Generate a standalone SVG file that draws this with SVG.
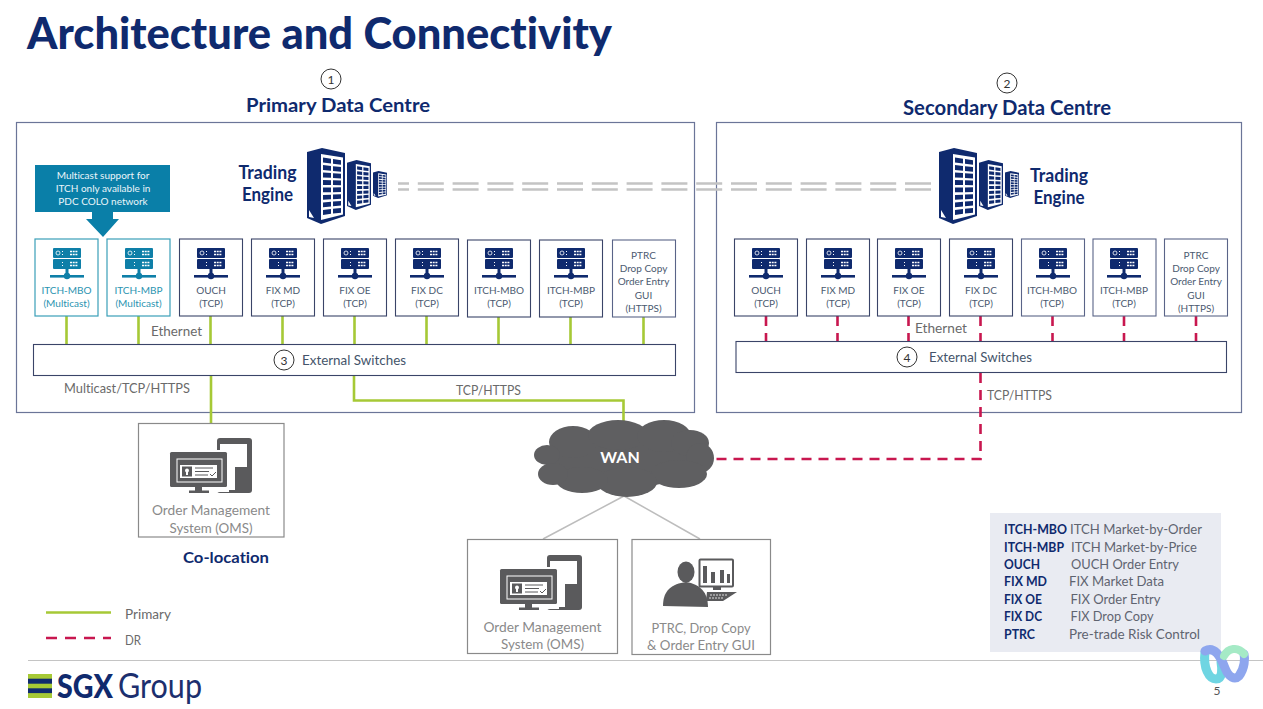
<svg xmlns="http://www.w3.org/2000/svg" width="1263" height="709" viewBox="0 0 1263 709">
<style>
text{font-family:Lato,"Liberation Sans",sans-serif;font-variant-ligatures:none}
.navy{fill:#0f2a6e;font-weight:700}
.g{fill:#6a6a6a;font-size:13.5px}
.lab{fill:#4b5a70;font-size:10px;text-anchor:middle}
.tl{fill:#2a93b0;font-size:10px;text-anchor:middle}
.sw{fill:#44546a;font-size:13.5px}
.oms{fill:#8a8a8a;font-size:13.5px;text-anchor:middle}
.num{fill:#333;font-size:12px;text-anchor:middle}
.c{fill:#fff;stroke:#333;stroke-width:1}
.dc{fill:none;stroke:#6b7598;stroke-width:1.2}
.n{fill:#fff;stroke:#3a4468;stroke-width:1.1}
.t{fill:#fff;stroke:#3a9fb8;stroke-width:1.2}
.sb{fill:#fff;stroke:#3a4468;stroke-width:1.1}
.box{fill:#fff;stroke:#8a8a8a;stroke-width:1.2}
.pri{fill:none;stroke:#a6c936;stroke-width:2.6}
.dr{fill:none;stroke:#c8174f;stroke-width:2.6;stroke-dasharray:10 7}
.drl{fill:none;stroke:#c8174f;stroke-width:2.6;stroke-dasharray:11 8}
.rep{fill:none;stroke:#c4c4c4;stroke-width:2.6;stroke-dasharray:26 8.8}
.k{fill:#0f2a6e;font-size:13.5px;font-weight:700}
.v{fill:#5f6470;font-size:13.5px}
</style>
<defs>
<symbol id="srv" viewBox="0 0 34 32" width="34" height="32" overflow="visible">
<rect x="3" y="0" width="28" height="10" rx="1" fill="currentColor"/>
<rect x="3" y="11" width="28" height="10" rx="1" fill="currentColor"/>
<circle cx="8" cy="5" r="2" fill="none" stroke="#fff" stroke-width=".8"/>
<path d="M12.500 3v1M12.500 6v1M12.500 14v1M12.500 17v1" stroke="#fff" stroke-width="1"/>
<path d="M20 3.500h8M20 6.500h8M20 14.500h8M20 17.500h8" stroke="#fff" stroke-width="1.600" stroke-dasharray="2 .7"/>
<rect x="0" y="27" width="34" height="2.600" fill="currentColor"/>
<rect x="15.500" y="21" width="3" height="7" fill="currentColor"/>
<circle cx="17" cy="28" r="3.200" fill="currentColor"/>
</symbol>
<symbol id="tower" viewBox="0 0 38 76" overflow="visible" preserveAspectRatio="none">
<path d="M0 4 15 0 38 5V68L14 76 0 70Z" fill="#0f2a6e"/>
<path d="M2 62 7 70 2 69Z" fill="#fff"/>
<path d="M14 6 36 9.500V66.500L14 72Z" fill="#fff"/>
<path d="M16 9.500 24 10.800V15.500L16 14.500ZM26 11 34 12.200V16.800L26 15.800ZM16 17 24 17.900V22.700L16 22ZM26 18.200 34 19V23.700L26 23ZM16 24.500 24 25V29.800L16 29.500ZM26 25.300 34 25.800V30.500L26 30.100ZM16 32 24 32.200V37H16ZM26 32.300 34 32.600V37.300L26 37ZM16 39.500H24V44.200H16ZM26 39.400 34 39.300V44 L26 44.200ZM16 47 24 46.700V51.300L16 51.800ZM26 46.600 34 46.200V50.800L26 51.200ZM16 54.500 24 53.800V58.500L16 59.300ZM26 53.600 34 53V57.600L26 58.300ZM16 62 24 61V65.700L16 67ZM26 60.800 34 60V64.700L26 65.500Z" fill="#0f2a6e"/>
</symbol>
<g id="bld">
<use href="#tower" x="40" y="12" width="24" height="50"/>
<use href="#tower" x="66" y="23" width="14" height="27"/>
<use href="#tower" x="0" y="0" width="38" height="76"/>
</g>
<symbol id="omsi" viewBox="0 0 84 56" width="84" height="56" overflow="visible">
<rect x="47" y="0" width="35" height="55" rx="3" fill="#5a5a5c"/>
<path d="M50 6H77V29H65V52H50Z" fill="#fff"/>
<rect x="-2" y="12" width="61" height="42" fill="#fff"/>
<rect x="0" y="14" width="57" height="35" rx="1.500" fill="#5a5a5c"/>
<rect x="7" y="21" width="45" height="23" fill="none" stroke="#fff" stroke-width="1"/>
<rect x="10" y="27" width="37" height="13" fill="#fff"/>
<rect x="12" y="28.500" width="10" height="10" fill="#5a5a5c"/>
<circle cx="17" cy="32.500" r="2" fill="#fff"/><rect x="16" y="33" width="2" height="4" fill="#fff"/>
<path d="M25 30H43M25 33.500H39M25 37H38" stroke="#5a5a5c" stroke-width="1"/>
<path d="M40 36l2 2 4-4" fill="none" stroke="#5a5a5c" stroke-width="1"/>
<rect x="25" y="49" width="7" height="4" fill="#5a5a5c"/>
<rect x="19" y="52.500" width="20" height="2.500" fill="#5a5a5c"/>
</symbol>
</defs>
<rect width="1263" height="709" fill="#fff"/>

<text x="27" y="49" class="navy" font-size="44" style="font-weight:900" textLength="585" lengthAdjust="spacingAndGlyphs">Architecture and Connectivity</text>

<g id="primary-dc">
<rect x="16.500" y="122.500" width="678" height="290" class="dc"/>
<circle cx="331" cy="79" r="10" class="c"/><text x="331" y="83.500" class="num">1</text>
<text x="246" y="112" class="navy" font-size="19.500" textLength="184" lengthAdjust="spacingAndGlyphs">Primary Data Centre</text>
</g>
<g id="secondary-dc">
<rect x="716.500" y="122.500" width="525" height="290" class="dc"/>
<circle cx="1007" cy="83" r="10" class="c"/><text x="1007" y="87.500" class="num">2</text>
<text x="903" y="115" class="navy" font-size="20" textLength="208" lengthAdjust="spacingAndGlyphs">Secondary Data Centre</text>
</g>

<g id="connectors">
<path d="M931 183.500H398M931 189.500H398" class="rep"/>
<path d="M66.500 316V344M138.500 316V344M210.500 316V344M282.500 316V344M354.500 316V344M426.500 316V344M498.500 316V344M570.500 316V344M643.500 316V344" class="pri"/>
<path d="M211 376V423" class="pri"/>
<path d="M354 376V400.500H623.500V428" class="pri"/>
<path d="M766 316V341M837.500 316V341M908.500 316V341M980.500 316V341M1052.500 316V341M1124 316V341M1196 316V341" class="dr"/>
<path d="M980.500 373V459H712" class="dr"/>
<path d="M624 496 543 539M624 496 700 539" fill="none" stroke="#bdbdbd" stroke-width="1.500"/>
</g>

<g id="te-primary">
<text x="267.500" y="179" class="navy" font-size="18" text-anchor="middle" textLength="58" lengthAdjust="spacingAndGlyphs">Trading</text>
<text x="267.500" y="201" class="navy" font-size="18" text-anchor="middle" textLength="51" lengthAdjust="spacingAndGlyphs">Engine</text>
<use href="#bld" x="307" y="148"/>
</g>
<g id="te-secondary">
<use href="#bld" x="939" y="148"/>
<text x="1059" y="182" class="navy" font-size="18" text-anchor="middle" textLength="58" lengthAdjust="spacingAndGlyphs">Trading</text>
<text x="1059" y="204" class="navy" font-size="18" text-anchor="middle" textLength="51" lengthAdjust="spacingAndGlyphs">Engine</text>
</g>

<g id="callout">
<path d="M35 165H170V212H113V219H119L103 237 86 219H92V212H35Z" fill="#0a7fa8"/>
<g fill="#eaf6fa" font-size="10" text-anchor="middle">
<text x="103" y="179">Multicast support for</text>
<text x="103" y="192">ITCH only available in</text>
<text x="103" y="205">PDC COLO network</text>
</g>
</g>

<g id="p-itch-mbo-mc"><rect x="35" y="239" width="63" height="77" class="t"/><use href="#srv" x="50" y="248" color="#0e7fa8"/><text x="66.500" y="294" class="tl">ITCH-MBO</text><text x="66.500" y="307" class="tl">(Multicast)</text></g>
<g id="p-itch-mbp-mc"><rect x="107" y="239" width="63" height="77" class="t"/><use href="#srv" x="122" y="248" color="#0e7fa8"/><text x="138.500" y="294" class="tl">ITCH-MBP</text><text x="138.500" y="307" class="tl">(Multicast)</text></g>
<g id="p-ouch"><rect x="179.500" y="239" width="63" height="77" class="n"/><use href="#srv" x="194" y="248" color="#0f2a6e"/><text x="211" y="294" class="lab">OUCH</text><text x="211" y="307" class="lab">(TCP)</text></g>
<g id="p-fix-md"><rect x="251.500" y="239" width="63" height="77" class="n"/><use href="#srv" x="266" y="248" color="#0f2a6e"/><text x="283" y="294" class="lab">FIX MD</text><text x="283" y="307" class="lab">(TCP)</text></g>
<g id="p-fix-oe"><rect x="323.500" y="239" width="63" height="77" class="n"/><use href="#srv" x="338" y="248" color="#0f2a6e"/><text x="355" y="294" class="lab">FIX OE</text><text x="355" y="307" class="lab">(TCP)</text></g>
<g id="p-fix-dc"><rect x="395.500" y="239" width="63" height="77" class="n"/><use href="#srv" x="410" y="248" color="#0f2a6e"/><text x="427" y="294" class="lab">FIX DC</text><text x="427" y="307" class="lab">(TCP)</text></g>
<g id="p-itch-mbo"><rect x="467.500" y="240" width="63" height="77" class="n"/><use href="#srv" x="482" y="248" color="#0f2a6e"/><text x="499" y="294" class="lab">ITCH-MBO</text><text x="499" y="307" class="lab">(TCP)</text></g>
<g id="p-itch-mbp"><rect x="539.500" y="240" width="63" height="77" class="n"/><use href="#srv" x="554" y="248" color="#0f2a6e"/><text x="571" y="294" class="lab">ITCH-MBP</text><text x="571" y="307" class="lab">(TCP)</text></g>
<g id="p-ptrc"><rect x="612.500" y="240" width="63" height="77" class="n" style="stroke:#5a6488"/><text x="643.500" y="259" class="lab">PTRC</text><text x="643.500" y="272" class="lab">Drop Copy</text><text x="643.500" y="285" class="lab">Order Entry</text><text x="643.500" y="299" class="lab">GUI</text><text x="643.500" y="312" class="lab">(HTTPS)</text></g>

<g id="s-ouch"><rect x="734.500" y="239" width="63" height="77" class="n"/><use href="#srv" x="749" y="248" color="#0f2a6e"/><text x="766" y="294" class="lab">OUCH</text><text x="766" y="307" class="lab">(TCP)</text></g>
<g id="s-fix-md"><rect x="806.500" y="239" width="63" height="77" class="n"/><use href="#srv" x="821" y="248" color="#0f2a6e"/><text x="838" y="294" class="lab">FIX MD</text><text x="838" y="307" class="lab">(TCP)</text></g>
<g id="s-fix-oe"><rect x="877.500" y="239" width="63" height="77" class="n"/><use href="#srv" x="892" y="248" color="#0f2a6e"/><text x="909" y="294" class="lab">FIX OE</text><text x="909" y="307" class="lab">(TCP)</text></g>
<g id="s-fix-dc"><rect x="949.500" y="239" width="63" height="77" class="n"/><use href="#srv" x="964" y="248" color="#0f2a6e"/><text x="981" y="294" class="lab">FIX DC</text><text x="981" y="307" class="lab">(TCP)</text></g>
<g id="s-itch-mbo"><rect x="1021.500" y="239" width="63" height="77" class="n" style="stroke:#5a6488"/><use href="#srv" x="1036" y="248" color="#0f2a6e"/><text x="1052" y="294" class="lab">ITCH-MBO</text><text x="1052" y="307" class="lab">(TCP)</text></g>
<g id="s-itch-mbp"><rect x="1093" y="239" width="63" height="77" class="n" style="stroke:#5a6488"/><use href="#srv" x="1107" y="248" color="#0f2a6e"/><text x="1124" y="294" class="lab">ITCH-MBP</text><text x="1124" y="307" class="lab">(TCP)</text></g>
<g id="s-ptrc"><rect x="1164.500" y="239" width="63" height="77" class="n" style="stroke:#5a6488"/><text x="1196" y="259" class="lab">PTRC</text><text x="1196" y="272" class="lab">Drop Copy</text><text x="1196" y="285" class="lab">Order Entry</text><text x="1196" y="299" class="lab">GUI</text><text x="1196" y="312" class="lab">(HTTPS)</text></g>

<g id="switch-primary">
<rect x="33.500" y="344.500" width="642" height="31" class="sb"/>
<circle cx="284" cy="360" r="10" class="c"/><text x="284" y="364.500" class="num">3</text>
<text x="302" y="365" class="sw" textLength="104" lengthAdjust="spacingAndGlyphs">External Switches</text>
</g>
<g id="switch-secondary">
<rect x="736" y="341.500" width="490.500" height="31" class="sb"/>
<circle cx="907" cy="357" r="10" class="c"/><text x="907" y="361.500" class="num">4</text>
<text x="929" y="361.500" class="sw" textLength="103" lengthAdjust="spacingAndGlyphs">External Switches</text>
</g>

<g id="link-labels">
<text x="151" y="336" class="g" textLength="51" lengthAdjust="spacingAndGlyphs">Ethernet</text>
<text x="915" y="333" class="g" textLength="52" lengthAdjust="spacingAndGlyphs">Ethernet</text>
<text x="64" y="393" class="g" textLength="126" lengthAdjust="spacingAndGlyphs">Multicast/TCP/HTTPS</text>
<text x="456" y="395" class="g" textLength="65" lengthAdjust="spacingAndGlyphs">TCP/HTTPS</text>
<text x="987" y="400" class="g" textLength="65" lengthAdjust="spacingAndGlyphs">TCP/HTTPS</text>
</g>

<g id="wan">
<g fill="#5f5f61">
<ellipse cx="622" cy="458" rx="76" ry="30"/>
<ellipse cx="573" cy="442" rx="24" ry="16"/>
<ellipse cx="618" cy="435" rx="30" ry="15"/>
<ellipse cx="664" cy="436" rx="27" ry="16"/>
<ellipse cx="690" cy="443" rx="19" ry="13"/>
<ellipse cx="700" cy="458" rx="14" ry="15"/>
<ellipse cx="679" cy="474" rx="28" ry="14"/>
<ellipse cx="627" cy="482" rx="30" ry="15"/>
<ellipse cx="582" cy="480" rx="26" ry="13"/>
<ellipse cx="547" cy="455" rx="13" ry="10"/>
<ellipse cx="553" cy="474" rx="15" ry="11"/>
</g>
<text x="620" y="463" fill="#fff" font-size="16" font-weight="700" text-anchor="middle">WAN</text>
</g>

<g id="oms-colo">
<rect x="138.500" y="423.500" width="145.500" height="113.500" class="box"/>
<use href="#omsi" x="170" y="438"/>
<text x="211" y="515" class="oms" textLength="118" lengthAdjust="spacingAndGlyphs">Order Management</text>
<text x="211" y="533" class="oms" textLength="83" lengthAdjust="spacingAndGlyphs">System (OMS)</text>
</g>
<text id="colo-label" x="183" y="563" class="navy" font-size="16" textLength="86" lengthAdjust="spacingAndGlyphs">Co-location</text>

<g id="oms-wan">
<rect x="467.500" y="539.500" width="150" height="114" class="box"/>
<use href="#omsi" x="500" y="555"/>
<text x="542.500" y="632" class="oms" textLength="118" lengthAdjust="spacingAndGlyphs">Order Management</text>
<text x="542.500" y="649" class="oms" textLength="83" lengthAdjust="spacingAndGlyphs">System (OMS)</text>
</g>

<g id="ptrc-gui">
<rect x="632" y="539.500" width="138.500" height="115" class="box"/>
<ellipse cx="686" cy="572" rx="8.500" ry="10.500" fill="#5a5a5c"/>
<path d="M663 606C663 590 672 584 686 582C700 584 708 592 708 607Z" fill="#5a5a5c"/>
<rect x="699.500" y="559.500" width="33.500" height="27" rx="1" fill="#fff" stroke="#5a5a5c" stroke-width="2"/>
<path d="M704 566h4v17h-4zM712 572h4v11h-4zM721 570h4v13h-4zM728 574h3v9h-3z" fill="#5a5a5c" transform="translate(-1 0)"/>
<rect x="713" y="587" width="8" height="3" fill="#5a5a5c"/>
<path d="M707 592H737L723 601 706 601Z" fill="#5a5a5c"/>
<path d="M710 595h17M709 598h15" stroke="#fff" stroke-width=".8" stroke-dasharray="2 1"/>
<text x="701" y="633" class="oms" textLength="99" lengthAdjust="spacingAndGlyphs">PTRC, Drop Copy</text>
<text x="701" y="650" class="oms" textLength="108" lengthAdjust="spacingAndGlyphs">&amp; Order Entry GUI</text>
</g>

<g id="legend">
<path d="M46 612.500H111" class="pri"/>
<path d="M46 638H111" class="drl"/>
<text x="125" y="619" class="g" font-size="13" textLength="46" lengthAdjust="spacingAndGlyphs">Primary</text>
<text x="125" y="645" class="g" font-size="13" textLength="16" lengthAdjust="spacingAndGlyphs">DR</text>
</g>

<g id="glossary">
<rect x="990" y="513" width="231" height="139" fill="#e9ebf2"/>
<text x="1004" y="534" class="k" textLength="63" lengthAdjust="spacingAndGlyphs">ITCH-MBO</text><text x="1070" y="534" class="v" textLength="132" lengthAdjust="spacingAndGlyphs">ITCH Market-by-Order</text>
<text x="1004" y="551.500" class="k" textLength="60" lengthAdjust="spacingAndGlyphs">ITCH-MBP</text><text x="1071" y="551.500" class="v" textLength="126" lengthAdjust="spacingAndGlyphs">ITCH Market-by-Price</text>
<text x="1004" y="568.500" class="k" textLength="36" lengthAdjust="spacingAndGlyphs">OUCH</text><text x="1071" y="568.500" class="v" textLength="108" lengthAdjust="spacingAndGlyphs">OUCH Order Entry</text>
<text x="1004" y="586" class="k" textLength="43" lengthAdjust="spacingAndGlyphs">FIX MD</text><text x="1069" y="586" class="v" textLength="95" lengthAdjust="spacingAndGlyphs">FIX Market Data</text>
<text x="1004" y="603.500" class="k" textLength="38" lengthAdjust="spacingAndGlyphs">FIX OE</text><text x="1070.500" y="603.500" class="v" textLength="90" lengthAdjust="spacingAndGlyphs">FIX Order Entry</text>
<text x="1004" y="621" class="k" textLength="38" lengthAdjust="spacingAndGlyphs">FIX DC</text><text x="1070.500" y="621" class="v" textLength="83" lengthAdjust="spacingAndGlyphs">FIX Drop Copy</text>
<text x="1004" y="639" class="k" textLength="31" lengthAdjust="spacingAndGlyphs">PTRC</text><text x="1069" y="639" class="v" textLength="131" lengthAdjust="spacingAndGlyphs">Pre-trade Risk Control</text>
</g>

<g id="footer">
<path d="M28 660.500H1263" stroke="#c4c4c4" stroke-width="1"/>
<rect x="28" y="674" width="24" height="24" fill="#a6c936"/>
<rect x="28" y="678.700" width="24" height="5" fill="#0f2a6e"/>
<rect x="28" y="688.300" width="24" height="4.800" fill="#0f2a6e"/>
<text x="57" y="698" fill="#0f2a6e" font-size="33" font-weight="900" textLength="56" lengthAdjust="spacingAndGlyphs">SGX</text>
<text x="118" y="698" fill="#1c2f6e" font-size="34" textLength="84" lengthAdjust="spacingAndGlyphs">Group</text>
<text x="1217" y="695" fill="#555" font-size="12" text-anchor="middle">5</text>
</g>

<g id="badge" fill="none" stroke-linecap="round">
<path d="M1205 652C1203 668 1209 679 1216 679C1223 679 1222 668 1221 662" stroke="#6fd5e2" stroke-width="9"/>
<path d="M1205 651C1214 646 1220 655 1225 668C1229 678 1235 680 1239 676C1245 668 1245 658 1244 654" stroke="#8ea6ee" stroke-width="9"/>
<path d="M1224 656C1228 648 1238 646 1244 654" stroke="#a5eac6" stroke-width="8"/>
</g>
</svg>
